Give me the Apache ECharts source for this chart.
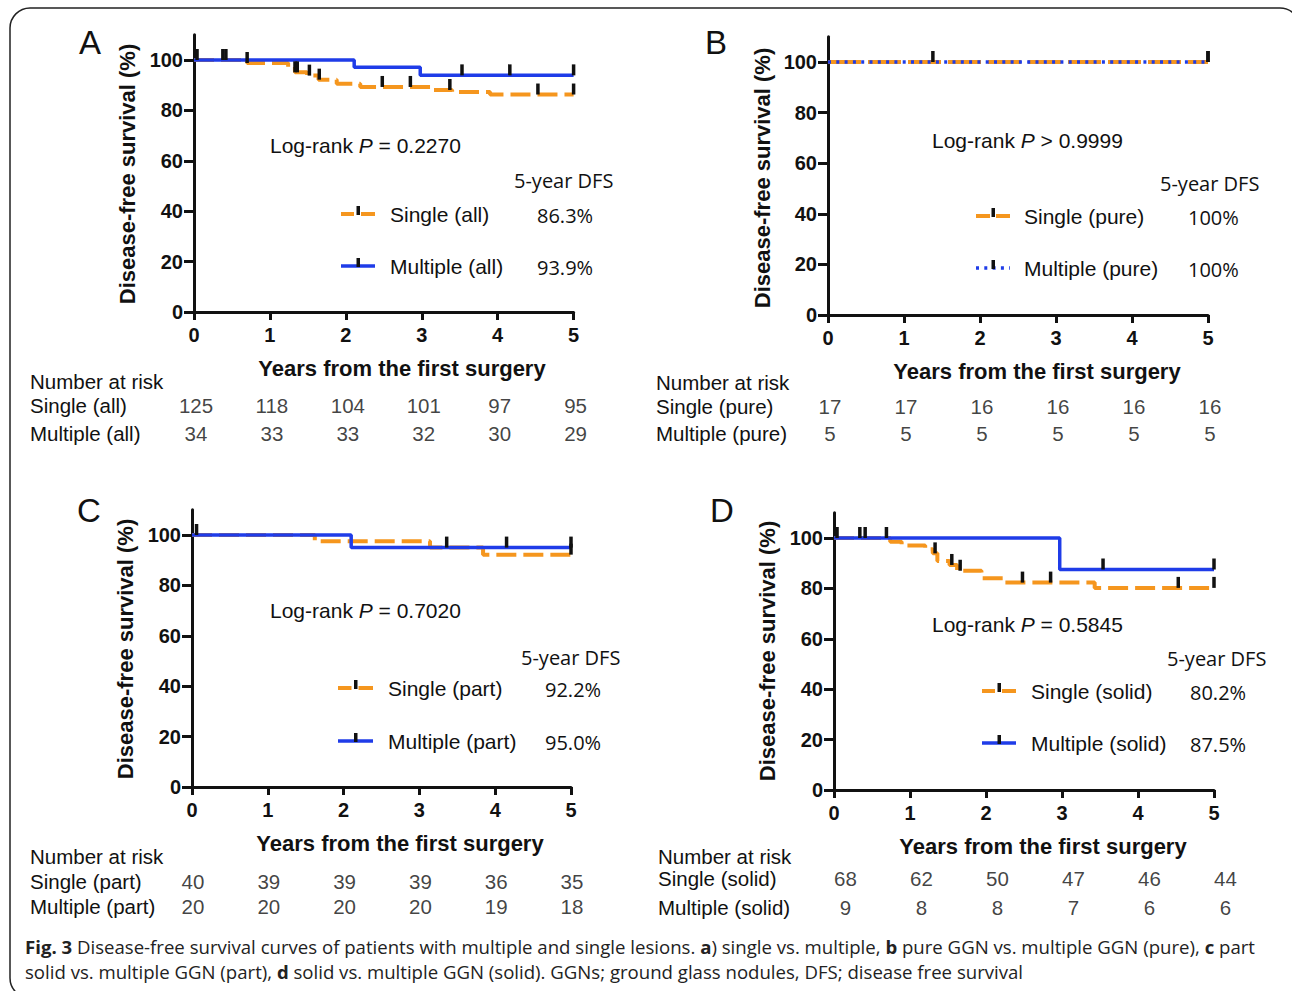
<!DOCTYPE html>
<html><head><meta charset="utf-8">
<script src="https://cdn.jsdelivr.net/npm/echarts@6/dist/echarts.min.js"></script>
<style>html,body{margin:0;padding:0;background:#fff}#c{width:1292px;height:991px}</style>
</head><body><div id="c"></div>
<script>
// ---------- DATA ----------
const years = [0, 1, 2, 3, 4, 5];
const yTicks = [0, 20, 40, 60, 80, 100];

// Panel A
const aNames = ['Single (all)', 'Multiple (all)'];
const aDFS = ['86.3%', '93.9%'];
const aLogRank = ['=', '0.2270'];
const aSingle = [[0,100],[0.7,98.8],[1.24,96.4],[1.33,95.1],[1.49,93.8],[1.64,92.2],[1.88,90.6],[2.19,89.3],[3.16,88.1],[3.4,87.3],[3.9,86.3],[5,86.3]];
const aMultiple = [[0,100],[2.11,97.1],[2.98,93.9],[5,93.9]];
const aSingleCensor = [0.38,0.42,0.7,1.33,1.36,1.52,1.65,2.48,2.85,3.37,4.53,5];
const aMultipleCensor = [0.04,3.53,4.16,5];
const aRiskSingle = [125,118,104,101,97,95];
const aRiskMultiple = [34,33,33,32,30,29];

// Panel B
const bNames = ['Single (pure)', 'Multiple (pure)'];
const bDFS = ['100%', '100%'];
const bLogRank = ['>', '0.9999'];
const bSingle = [[0,100],[5,100]];
const bMultiple = [[0,100],[5,100]];
const bSingleCensor = [1.38,5];
const bMultipleCensor = [5];
const bRiskSingle = [17,17,16,16,16,16];
const bRiskMultiple = [5,5,5,5,5,5];

// Panel C
const cNames = ['Single (part)', 'Multiple (part)'];
const cDFS = ['92.2%', '95.0%'];
const cLogRank = ['=', '0.7020'];
const cSingle = [[0,100],[1.62,97.5],[3.14,95],[3.84,92.2],[5,92.2]];
const cMultiple = [[0,100],[2.1,95],[5,95]];
const cSingleCensor = [5];
const cMultipleCensor = [0.06,3.36,4.15,5];
const cRiskSingle = [40,39,39,39,36,35];
const cRiskMultiple = [20,20,20,20,19,18];

// Panel D
const dNames = ['Single (solid)', 'Multiple (solid)'];
const dDFS = ['80.2%', '87.5%'];
const dLogRank = ['=', '0.5845'];
const dSingle = [[0,100],[0.74,98.5],[0.89,97],[1.2,95.5],[1.3,93.9],[1.36,90.9],[1.52,89.3],[1.62,87],[1.94,84],[2.23,82.3],[3.43,80.2],[5,80.2]];
const dMultiple = [[0,100],[2.97,87.5],[5,87.5]];
const dSingleCensor = [0.34,0.41,0.69,1.33,1.55,1.66,2.48,2.85,4.53,5];
const dMultipleCensor = [0.04,3.54,5];
const dRiskSingle = [68,62,50,47,46,44];
const dRiskMultiple = [9,8,8,7,6,6];

const letters = ['A','B','C','D'];
const yTitle = 'Disease-free survival (%)';
const xTitle = 'Years from the first surgery';
const riskHeader = 'Number at risk';
const dfsHeader = '5-year DFS';
const captionLine1 = '{b|Fig. 3} Disease-free survival curves of patients with multiple and single lesions. {b|a}) single vs. multiple, {b|b} pure GGN vs. multiple GGN (pure), {b|c} part';
const captionLine2 = 'solid vs. multiple GGN (part), {b|d} solid vs. multiple GGN (solid). GGNs; ground glass nodules, DFS; disease free survival';

// ---------- LAYOUT / STYLE ----------
const ORANGE = '#F5961E', BLUE = '#1F3CE8', INK = '#111111';
const FF = '"Liberation Sans", Arial, sans-serif';
const FF2 = '"Open Sans", sans-serif';

const panels = [
  {names:aNames, dfs:aDFS, lr:aLogRank, single:aSingle, multiple:aMultiple, sc:aSingleCensor, mc:aMultipleCensor, rs:aRiskSingle, rm:aRiskMultiple,
   g:{x:194,y:34.8,w:379.6,h:277.2}, r:{x:196,y:391,w:379.6,h:56,lx:30}, letter:[90,42], yt:[127,174], xt:[402,368], risk:[30,381],
   lr_xy:[270,145], dfs_xy:[514,180], leg:{sx:341,ex:375,y1:214,y2:266,nx:390,px:537}, dashS:[20,7], dashM:'solid'},
  {names:bNames, dfs:bDFS, lr:bLogRank, single:bSingle, multiple:bMultiple, sc:bSingleCensor, mc:bMultipleCensor, rs:bRiskSingle, rm:bRiskMultiple,
   g:{x:828,y:36.7,w:380,h:278.3}, r:{x:830,y:393,w:380,h:54,lx:656}, letter:[716,42], yt:[762,178], xt:[1037,371], risk:[656,382],
   lr_xy:[932,140], dfs_xy:[1160,183], leg:{sx:976,ex:1010,y1:216,y2:268,nx:1024,px:1188}, dashS:[33,7], dashM:'dots'},
  {names:cNames, dfs:cDFS, lr:cLogRank, single:cSingle, multiple:cMultiple, sc:cSingleCensor, mc:cMultipleCensor, rs:cRiskSingle, rm:cRiskMultiple,
   g:{x:192,y:509.8,w:379,h:277.2}, r:{x:193,y:868.5,w:379,h:50,lx:30}, letter:[89,510], yt:[125,649], xt:[400,843], risk:[30,856],
   lr_xy:[270,610], dfs_xy:[521,657], leg:{sx:338,ex:373,y1:688,y2:741,nx:388,px:545}, dashS:[20,7], dashM:'solid'},
  {names:dNames, dfs:dDFS, lr:dLogRank, single:dSingle, multiple:dMultiple, sc:dSingleCensor, mc:dMultipleCensor, rs:dRiskSingle, rm:dRiskMultiple,
   g:{x:834,y:512.8,w:380,h:277.2}, r:{x:845.5,y:863.5,w:380,h:59,lx:658}, letter:[722,510], yt:[767,651], xt:[1043,846], risk:[658,856],
   lr_xy:[932,624], dfs_xy:[1167,658], leg:{sx:982,ex:1016,y1:691,y2:743,nx:1031,px:1190}, dashS:[20,7], dashM:'solid'}
];

function valAt(steps, t) {
  let v = steps[0][1];
  for (const s of steps) { if (s[0] <= t + 1e-9) v = s[1]; }
  return v;
}

const grid = [], xAxis = [], yAxis = [], series = [], graphic = [];
const axisLineStyle = {color: INK, width: 3};

panels.forEach((p, i) => {
  const gi = 2 * i, ri = 2 * i + 1;
  grid.push({left: p.g.x, top: p.g.y, width: p.g.w, height: p.g.h});
  grid.push({left: p.r.x, top: p.r.y, width: p.r.w, height: p.r.h});
  xAxis.push({type:'value', gridIndex: gi, min: years[0], max: years[years.length-1], interval: 1,
    axisLine:{show:true, onZero:false, lineStyle: axisLineStyle},
    axisTick:{show:true, length:8, lineStyle:{color:INK, width:3}},
    axisLabel:{fontSize:20, fontWeight:'bold', fontFamily:FF, color:INK, margin:13},
    splitLine:{show:false}});
  yAxis.push({type:'value', gridIndex: gi, min: 0, max: 110,
    axisLine:{show:true, onZero:false, lineStyle: axisLineStyle},
    axisTick:{show:true, length:10, customValues: yTicks, lineStyle:{color:INK, width:3}},
    axisLabel:{customValues: yTicks, fontSize:20, fontWeight:'bold', fontFamily:FF, color:INK, margin:11},
    splitLine:{show:false}});
  xAxis.push({type:'value', gridIndex: ri, min: years[0], max: years[years.length-1], show:false});
  yAxis.push({type:'category', gridIndex: ri, data: p.names, inverse:true,
    axisLine:{show:false}, axisTick:{show:false}, splitLine:{show:false},
    axisLabel:{interval:0, hideOverlap:false, align:'left', margin: p.r.x - p.r.lx, fontSize:20.5, fontFamily:FF, color:INK}});

  const axIdx = {xAxisIndex: 2*i, yAxisIndex: 2*i};
  series.push(Object.assign({type:'line', name:p.names[0], data:p.single, step:'end', symbol:'none', z:2,
    lineStyle:{color:ORANGE, width:4, type:p.dashS}, silent:true, animation:false}, axIdx));
  const mStyle = p.dashM === 'dots' ? {color:BLUE, width:3.5, type:[3, 5.3]} : {color:BLUE, width:3.5, type:'solid'};
  series.push(Object.assign({type:'line', name:p.names[1], data:p.multiple, step:'end', symbol:'none', z:3,
    lineStyle:mStyle, silent:true, animation:false}, axIdx));
  const cens = p.sc.map(t => [t, valAt(p.single, t)]).concat(p.mc.map(t => [t, valAt(p.multiple, t)]));
  series.push(Object.assign({type:'scatter', data:cens, symbol:'rect', symbolSize:[3.5, 11], symbolOffset:[0, -5.5],
    itemStyle:{color:INK, opacity:1}, z:5, silent:true, animation:false}, axIdx));
  const riskData = years.map((t, k) => [t, 0, p.rs[k]]).concat(years.map((t, k) => [t, 1, p.rm[k]]));
  series.push({type:'scatter', xAxisIndex: ri, yAxisIndex: ri, data: riskData, symbol:'circle', symbolSize:1,
    itemStyle:{color:'rgba(0,0,0,0)'}, silent:true, animation:false,
    label:{show:true, position:'inside', formatter: q => String(q.value[2]), fontSize:20.5, fontFamily:FF, color:INK}});

  graphic.push({type:'text', x:p.letter[0], y:p.letter[1], style:{text:letters[i], fontSize:33, fontFamily:FF, fill:INK, align:'center', verticalAlign:'middle'}});
  graphic.push({type:'text', x:p.yt[0], y:p.yt[1], rotation:Math.PI/2, style:{text:yTitle, fontSize:22, fontWeight:'bold', fontFamily:FF, fill:INK, align:'center', verticalAlign:'middle'}});
  graphic.push({type:'text', x:p.xt[0], y:p.xt[1], style:{text:xTitle, fontSize:22, fontWeight:'bold', fontFamily:FF, fill:INK, align:'center', verticalAlign:'middle'}});
  graphic.push({type:'text', x:p.risk[0], y:p.risk[1], style:{text:riskHeader, fontSize:20.5, fontFamily:FF, fill:INK, align:'left', verticalAlign:'middle'}});
  graphic.push({type:'text', x:p.lr_xy[0], y:p.lr_xy[1], style:{text:'{n|Log-rank }{i|P}{n| ' + p.lr[0] + ' ' + p.lr[1] + '}',
    fontSize:21, fontFamily:FF, fill:INK, align:'left', verticalAlign:'middle',
    rich:{n:{fontSize:21, fontFamily:FF, fill:INK}, i:{fontSize:21, fontFamily:FF, fontStyle:'italic', fill:INK}}}});
  graphic.push({type:'text', x:p.dfs_xy[0], y:p.dfs_xy[1], style:{text:dfsHeader, fontSize:20, fontFamily:FF2, fill:INK, align:'left', verticalAlign:'middle'}});
  const L = p.leg, mid = (L.sx + L.ex) / 2;
  [L.y1, L.y2].forEach((yy, k) => {
    graphic.push({type:'text', x:L.nx, y:yy, style:{text:p.names[k], fontSize:21, fontFamily:FF, fill:INK, align:'left', verticalAlign:'middle'}});
    graphic.push({type:'text', x:L.px, y:yy + 1, style:{text:p.dfs[k], fontSize:20, fontFamily:FF2, fill:INK, align:'left', verticalAlign:'middle'}});
  });
  if (p.dashM === 'dots') {
    graphic.push({type:'line', shape:{x1:L.sx, y1:L.y1, x2:mid-3, y2:L.y1}, style:{stroke:ORANGE, lineWidth:4}});
    graphic.push({type:'line', shape:{x1:mid+3, y1:L.y1, x2:L.ex, y2:L.y1}, style:{stroke:ORANGE, lineWidth:4}});
    graphic.push({type:'line', shape:{x1:L.sx, y1:L.y2, x2:L.ex, y2:L.y2}, style:{stroke:BLUE, lineWidth:3.5, lineDash:[3, 5.3]}});
  } else {
    graphic.push({type:'line', shape:{x1:L.sx, y1:L.y1, x2:mid-4, y2:L.y1}, style:{stroke:ORANGE, lineWidth:4}});
    graphic.push({type:'line', shape:{x1:mid+3, y1:L.y1, x2:L.ex, y2:L.y1}, style:{stroke:ORANGE, lineWidth:4}});
    graphic.push({type:'line', shape:{x1:L.sx, y1:L.y2, x2:L.ex, y2:L.y2}, style:{stroke:BLUE, lineWidth:3.5}});
  }
  [L.y1, L.y2].forEach(yy => {
    graphic.push({type:'rect', shape:{x:mid-1.5, y:yy-8, width:3.5, height:9}, style:{fill:INK}});
  });
});

// caption
const capRich = {b:{fontSize:18.6, fontFamily:FF2, fontWeight:'bold', fill:'#222'}};
graphic.push({type:'text', x:25, y:946, style:{text:captionLine1, fontSize:18.6, fontFamily:FF2, fill:'#222', align:'left', verticalAlign:'middle', rich:capRich}});
graphic.push({type:'text', x:25, y:971, style:{text:captionLine2, fontSize:18.6, fontFamily:FF2, fill:'#222', align:'left', verticalAlign:'middle', rich:capRich}});
// frame
graphic.push({type:'rect', shape:{x:10, y:8, width:1290, height:990, r:20}, style:{stroke:'#222', lineWidth:1.5, fill:'none'}, z:-1});

const chart = echarts.init(document.getElementById('c'), null, {renderer:'svg'});
chart.setOption({animation:false, backgroundColor:'#fff', grid, xAxis, yAxis, series, graphic});
</script>
</body></html>
